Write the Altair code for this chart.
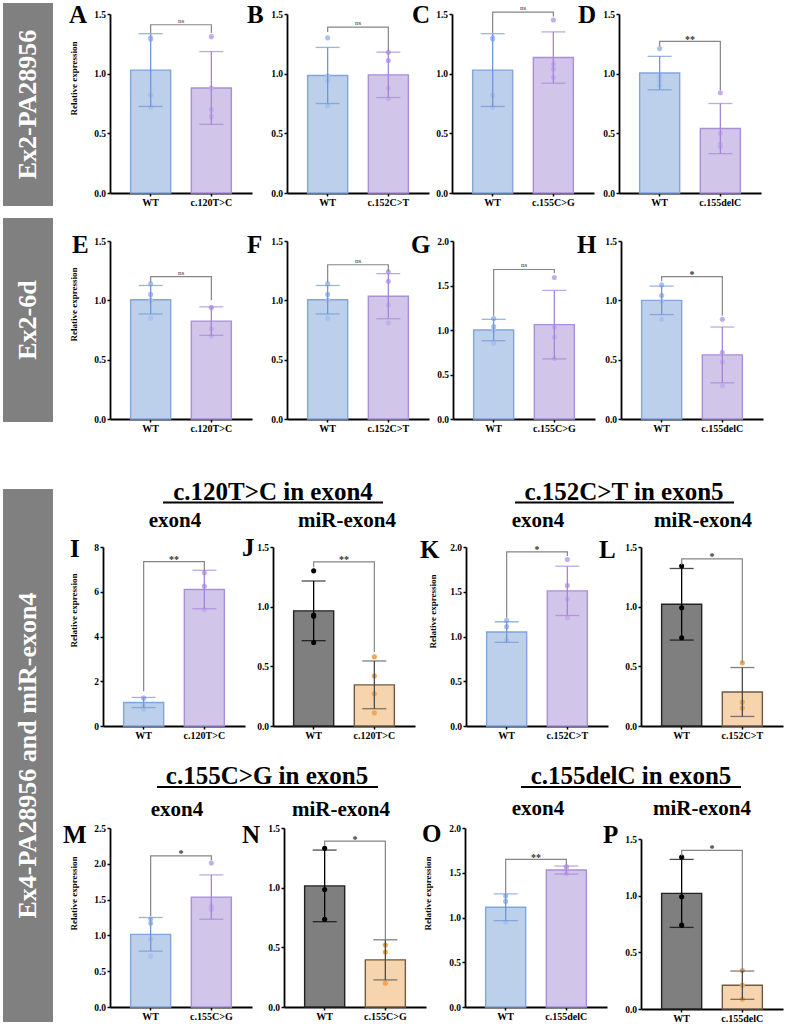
import altair as alt
import pandas as pd

# ---------------- data ----------------
PANELS = list("ABCDEFGHIJKLMNOP")
KIND = ["exon"] * 8 + ["exon", "mir"] * 4
MUT_LABEL = ["c.120T>C", "c.152C>T", "c.155C>G", "c.155delC",
             "c.120T>C", "c.152C>T", "c.155C>G", "c.155delC",
             "c.120T>C", "c.120T>C", "c.152C>T", "c.152C>T",
             "c.155C>G", "c.155C>G", "c.155delC", "c.155delC"]
Y_MAX = [1.5, 1.5, 1.5, 1.5, 1.5, 1.5, 2.0, 1.5, 8, 1.5, 2.0, 1.5, 2.5, 1.5, 2.0, 1.5]
Y_TICKS = [[0, 0.5, 1.0, 1.5]] * 6 + [[0, 0.5, 1.0, 1.5, 2.0], [0, 0.5, 1.0, 1.5],
           [0, 2, 4, 6, 8], [0, 0.5, 1.0, 1.5], [0, 0.5, 1.0, 1.5, 2.0], [0, 0.5, 1.0, 1.5],
           [0, 0.5, 1.0, 1.5, 2.0, 2.5], [0, 0.5, 1.0, 1.5], [0, 0.5, 1.0, 1.5, 2.0], [0, 0.5, 1.0, 1.5]]

WT_MEAN = [1.03, 0.985, 1.03, 1.005, 1.005, 1.005, 1.00, 1.00, 1.05, 0.965, 1.05, 1.02, 1.015, 1.015, 1.115, 1.02]
WT_SD = [0.305, 0.235, 0.305, 0.14, 0.12, 0.12, 0.12, 0.12, 0.225, 0.25, 0.115, 0.30, 0.235, 0.30, 0.15, 0.30]
MUT_MEAN = [0.88, 0.99, 1.135, 0.54, 0.825, 1.035, 1.06, 0.54, 6.1, 0.345, 1.51, 0.285, 1.535, 0.395, 1.53, 0.21]
MUT_SD = [0.305, 0.19, 0.215, 0.21, 0.12, 0.19, 0.385, 0.235, 0.86, 0.20, 0.275, 0.205, 0.31, 0.168, 0.045, 0.125]

WT_POINTS = [[1.29, 1.30, 0.82, 0.72], [1.30, 0.98, 0.94, 0.73], [1.29, 1.30, 0.82, 0.72],
             [1.21, 0.98, 0.94, 0.90], [1.14, 1.05, 1.00, 0.85], [1.14, 1.05, 1.00, 0.85],
             [1.13, 1.04, 1.00, 0.85], [1.13, 1.04, 0.99, 0.84], [1.25, 1.25, 0.95, 0.75],
             [1.30, 0.93, 0.92, 0.70], [1.18, 1.11, 0.96, 0.96], [1.34, 0.99, 0.74],
             [1.17, 1.23, 0.95, 0.71], [1.33, 0.985, 0.735], [1.24, 1.18, 0.95], [1.34, 0.99, 0.74]]
WT_SPREAD = [[-1, 1, 0, 0], [0, -1, 1, 0], [-1, 1, 0, 0], [0, -1, 1, -1], [0, 0, 0, 0], [0, 0, 0, 0],
             [0, -1, 1, 0], [0, 0, 0, 0], [-1, 1, 0, 0], [0, -1, 1, 0], [0, 0, -1, 1], [0, 0, 0],
             [-1, 1, 0, 0], [0, 0, 0], [-1, 1, 0], [0, 0, 0]]
MUT_POINTS = [[1.31, 0.88, 0.70, 0.64], [1.18, 1.11, 0.88, 0.79], [1.45, 1.08, 1.04, 0.97],
              [0.84, 0.50, 0.39, 0.41], [0.94, 0.94, 0.76, 0.70], [1.24, 1.16, 0.96, 0.81],
              [1.59, 1.03, 0.92, 0.68], [0.84, 0.56, 0.48, 0.28], [6.85, 6.25, 5.2],
              [0.58, 0.42, 0.27, 0.11], [1.86, 1.57, 1.42, 1.21], [0.53, 0.20, 0.15],
              [2.01, 1.36, 1.41, 1.38], [0.52, 0.46, 0.20], [1.57, 1.56, 1.49], [0.34, 0.21, 0.085]]
MUT_SPREAD = [[0, 0, 0, 0], [0, 0, 0, 0], [0, 0, 0, 0], [0, 0, -1, 1], [-1, 1, 0, 0], [0, 0, 0, 0],
              [0, 0, 0, 0], [0, 0, 0, 0], [0, 0, 0], [0, 0, 0, 0], [0, 0, 0, 0], [0, 0, 0],
              [0, -1, 0, 1], [0, 0, 0], [-1, 1, 0], [0, 0, 0]]

SIG = ["ns", "ns", "ns", "**", "ns", "ns", "ns", "*", "**", "**", "*", "*", "*", "*", "**", "*"]
BRACKET = [1.41, 1.39, 1.515, 1.27, 1.20, 1.30, 1.68, 1.20, 7.35, 1.375, 1.945, 1.40, 2.11, 1.39, 1.65, 1.40]
LEG_WT = [1.34, 1.35, 1.34, 1.23, 1.15, 1.15, 1.16, 1.16, 1.55, 1.33, 1.21, 1.35, 1.27, 1.35, 1.27, 1.35]
LEG_MUT = [1.34, 1.19, 1.48, 0.86, 1.00, 1.24, 1.64, 0.87, 6.95, 0.62, 1.90, 0.53, 2.05, 0.57, 1.59, 0.34]

SIDE_TEXT = ["Ex2-PA28956", "Ex2-6d", "Ex4-PA28956 and miR-exon4"]
GROUP_TITLES = ["c.120T>C in exon4", "c.152C>T in exon5", "c.155C>G in exon5", "c.155delC in exon5"]
SUB_TITLES = ["exon4", "miR-exon4"] * 4
Y_TITLE = "Relative expression"

# ---------------- layout (pixels) ----------------
FONT = "Liberation Serif"
CW, CH = 786, 1026
PW = 142
JIT = 6.5
X0 = dict(A=110, B=287, C=452, D=619, E=110, F=287, G=453, H=621,
          I=103, J=273, K=466, L=641, M=110, N=284, O=465, P=641)
ROWS = [(193, 14), (419, 241), (726, 547), (1007, 828)]
YR = {p: ROWS[k // 4] for k, p in enumerate(PANELS)}
YR["P"] = (1009, 839)
YTITLE_POS = dict(A=(-37, 78), E=(-37, 304), I=(-30, 610), K=(-34, 611), M=(-37, 893), O=(-38, 893))
LETTER_POS = [(69, 23), (247, 23), (412, 23), (578, 23), (72, 253), (247, 253), (411, 253), (577, 253),
              (70, 557), (242, 556), (420, 558), (599, 558), (63, 843), (242, 843), (422, 842), (603, 843)]
BOX_GEOM = [(3, 53, 3, 206), (3, 53, 218, 422), (3, 53, 489, 1022)]
GT_POS = [(273, 500, 163, 383, 502.5), (624, 500, 515, 734, 502.5),
          (267, 784, 157, 378, 787), (631, 784, 521, 741, 787)]
ST_POS = [(175, 527), (347, 527), (538, 527), (703, 527), (177, 816), (341, 816), (538, 815), (702, 815)]

STYLE = {
    "exon": dict(fill=("#bccfeb", "#d1c5e9"), stroke=("#82a5da", "#a98fd8"),
                 point=("#a9c1ec", "#c6adee"), err=("#7096d4", "#a286d6")),
    "mir": dict(fill=("#7f7f7f", "#f6d4ad"), stroke=("#222222", "#6e5a45"),
                point=("#000000", "#f2a653"), err=("#000000", "#4a4a4a")),
}
IS_WT = "datum.g == 'WT'"


def cond(pair):
    return alt.condition(IS_WT, alt.value(pair[0]), alt.value(pair[1]))


def panel(i):
    p = PANELS[i]
    st = STYLE[KIND[i]]
    wt, mut = "WT", MUT_LABEL[i]
    x0 = X0[p]
    ybot, ytop = YR[p]
    xs = alt.Scale(domain=[wt, mut], range=[x0, x0 + PW], paddingInner=0.34, paddingOuter=0.34)
    ys = alt.Scale(domain=[0, Y_MAX[i]], range=[ybot, ytop], nice=False, zero=True)
    xax = alt.Axis(orient="bottom", offset=ybot - CH, title=None, labelAngle=0,
                   labelFontSize=10, labelPadding=1.5, tickSize=3)
    ykw = dict(orient="left", offset=-x0, values=Y_TICKS[i],
               format="d" if Y_MAX[i] > 3 else ".1f", labelFontSize=9.5, labelPadding=1.5, tickSize=3)
    if p in YTITLE_POS:
        tx, ty = YTITLE_POS[p]
        ykw.update(title=Y_TITLE, titleX=tx, titleY=ty, titleAngle=270, titleAlign="center",
                   titleBaseline="middle", titleFont=FONT, titleFontSize=9,
                   titleFontWeight="bold", titleColor="black")
    else:
        ykw["title"] = None
    yax = alt.Axis(**ykw)

    def X(f):
        return alt.X(f, type="nominal", scale=xs, axis=xax)

    def Y(f):
        return alt.Y(f, type="quantitative", scale=ys, axis=yax)

    bars_df = pd.DataFrame({"g": [wt, mut], "m": [WT_MEAN[i], MUT_MEAN[i]],
                            "sd": [WT_SD[i], MUT_SD[i]]})
    base = alt.Chart(bars_df)
    bar = base.mark_bar(strokeWidth=1.4).encode(
        x=X("g"), y=Y("m"), fill=cond(st["fill"]), stroke=cond(st["stroke"]))
    calc = base.transform_calculate(lo="datum.m - datum.sd", hi="datum.m + datum.sd")
    err = calc.mark_rule(strokeWidth=1.3).encode(
        x=X("g"), y=Y("lo"), y2=alt.Y2("hi"), color=cond(st["err"]))
    caps = calc.transform_fold(["lo", "hi"], as_=["k", "e"]).mark_tick(size=24, thickness=1.3).encode(
        x=X("g"), y=Y("e"), color=cond(st["err"]))

    pts_df = pd.DataFrame({"g": [wt] * len(WT_POINTS[i]) + [mut] * len(MUT_POINTS[i]),
                           "v": WT_POINTS[i] + MUT_POINTS[i],
                           "s": WT_SPREAD[i] + MUT_SPREAD[i]})
    pbase = alt.Chart(pts_df)
    pts_layers = []
    for s in (-1, 0, 1):
        pts_layers.append(
            pbase.transform_filter(f"datum.s == {s}").mark_circle(size=26, opacity=1, dx=s * JIT).encode(
                x=X("g"), y=Y("v"), color=cond(st["point"])))

    br_df = pd.DataFrame({"g": [wt, wt, mut, mut],
                          "y": [LEG_WT[i], BRACKET[i], BRACKET[i], LEG_MUT[i]],
                          "o": [0, 1, 2, 3]})
    br = alt.Chart(br_df).mark_line(color="#858585", strokeWidth=1.2).encode(
        x=X("g"), y=Y("y"), order="o:Q")

    sig_df = pd.DataFrame({"t": [SIG[i]], "y": [BRACKET[i]]})
    if SIG[i] == "ns":
        sig_mark = dict(fontSize=7, fontWeight="normal", dy=-2)
    else:
        sig_mark = dict(fontSize=10, fontWeight="bold", dy=1.5)
    sig = alt.Chart(sig_df).mark_text(font=FONT, baseline="alphabetic", align="center",
                                      color="#333333", **sig_mark).encode(
        x=alt.value(x0 + PW / 2), y=Y("y"), text="t:N")

    return alt.layer(bar, *pts_layers, err, caps, br, sig)


def px(f):
    return alt.X(f, type="quantitative", scale=None, axis=None)


def py(f):
    return alt.Y(f, type="quantitative", scale=None, axis=None)


# side boxes
box_df = pd.DataFrame({"x1": [b[0] for b in BOX_GEOM], "x2": [b[1] for b in BOX_GEOM],
                       "y1": [b[2] for b in BOX_GEOM], "y2": [b[3] for b in BOX_GEOM],
                       "cx": [(b[0] + b[1]) / 2 for b in BOX_GEOM],
                       "cy": [(b[2] + b[3]) / 2 for b in BOX_GEOM], "t": SIDE_TEXT})
boxes = alt.Chart(box_df).mark_rect(color="#808080").encode(
    x=px("x1"), x2=alt.X2("x2"), y=py("y1"), y2=alt.Y2("y2"))
box_text = alt.Chart(box_df).mark_text(angle=270, font=FONT, fontSize=26, fontWeight="bold",
                                       color="white", align="center", baseline="middle").encode(
    x=px("cx"), y=py("cy"), text="t:N")

# panel letters
let_df = pd.DataFrame({"t": PANELS, "x": [q[0] for q in LETTER_POS], "y": [q[1] for q in LETTER_POS]})
letters = alt.Chart(let_df).mark_text(font=FONT, fontSize=25, fontWeight="bold", color="black",
                                      align="left", baseline="alphabetic").encode(
    x=px("x"), y=py("y"), text="t:N")

# group titles with underline, and sub titles
gt_df = pd.DataFrame({"t": GROUP_TITLES, "x": [q[0] for q in GT_POS], "y": [q[1] for q in GT_POS],
                      "u1": [q[2] for q in GT_POS], "u2": [q[3] for q in GT_POS],
                      "uy": [q[4] for q in GT_POS]})
gtitles = alt.Chart(gt_df).mark_text(font=FONT, fontSize=25, fontWeight="bold", color="black",
                                     align="center", baseline="alphabetic").encode(
    x=px("x"), y=py("y"), text="t:N")
underline = alt.Chart(gt_df).mark_rule(color="black", strokeWidth=2.2).encode(
    x=px("u1"), x2=alt.X2("u2"), y=py("uy"))
st_df = pd.DataFrame({"t": SUB_TITLES, "x": [q[0] for q in ST_POS], "y": [q[1] for q in ST_POS]})
stitles = alt.Chart(st_df).mark_text(font=FONT, fontSize=21, fontWeight="bold", color="black",
                                     align="center", baseline="alphabetic").encode(
    x=px("x"), y=py("y"), text="t:N")

panels = [panel(i) for i in range(len(PANELS))]

chart = alt.layer(boxes, box_text, letters, gtitles, underline, stitles, *panels).resolve_scale(
    x="independent", y="independent"
).properties(
    width=CW, height=CH, autosize=alt.AutoSizeParams(type="none"), padding=0
).configure_axis(
    domainColor="black", domainWidth=1.8, tickColor="black", tickWidth=1.5,
    labelFont=FONT, labelFontWeight="bold", labelColor="black", grid=False
).configure_view(stroke=None)

chart.save("out.html", embed_options={"renderer": "svg", "actions": False})
